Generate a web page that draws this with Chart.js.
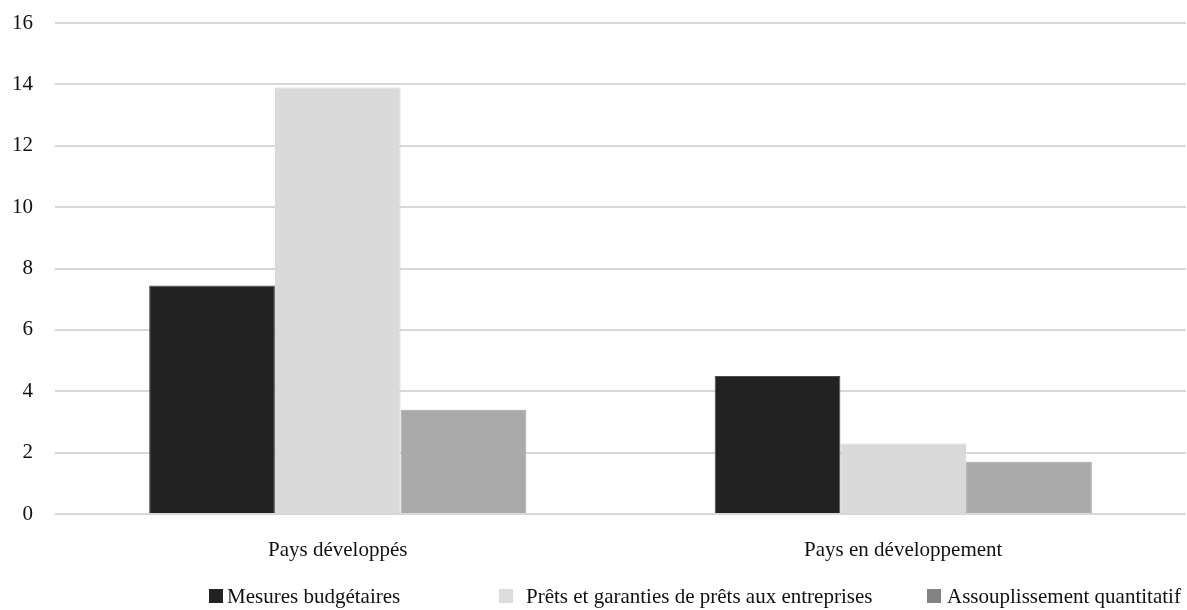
<!DOCTYPE html>
<html>
<head>
<meta charset="utf-8">
<script src="https://cdn.jsdelivr.net/npm/chart.js@4/dist/chart.umd.min.js"></script>
<style>
  html, body { margin: 0; padding: 0; background: #ffffff; }
  #wrap { width: 1187px; height: 610px; }
</style>
</head>
<body>
<div id="wrap"><canvas id="c" width="1187" height="610"></canvas></div>
<script>
// Categories and series
const categories = ['Pays développés', 'Pays en développement'];
const seriesNames = [
  'Mesures budgétaires',
  'Prêts et garanties de prêts aux entreprises',
  'Assouplissement quantitatif'
];
const mesuresBudgetaires = [7.45, 4.5];
const pretsGaranties = [13.9, 2.3];
const assouplissement = [3.4, 1.7];
const yTickValues = [0, 2, 4, 6, 8, 10, 12, 14, 16];

// Styling
const FONT = '"Liberation Serif", "Times New Roman", serif';
const barBorders = ['#4a4a4a', '#d4d4d4', '#a2a2a2'];
const swatchColors = ['#222222', '#dcdcdc', '#838383'];
const swatchX = [209, 499, 927];
const legendTextX = [227, 526, 947];

// Fine stipple fill for the light series
function stipple() {
  const p = document.createElement('canvas');
  p.width = 4; p.height = 4;
  const g = p.getContext('2d');
  g.fillStyle = '#dadada';
  g.fillRect(0, 0, 4, 4);
  g.fillStyle = '#d2d2d2';
  g.fillRect(0, 0, 1, 1);
  g.fillRect(2, 2, 1, 1);
  g.fillStyle = '#e0e0e0';
  g.fillRect(2, 0, 1, 1);
  g.fillRect(0, 2, 1, 1);
  return g.createPattern(p, 'repeat');
}
const barColors = ['#222222', stipple(), '#aaaaaa'];

// Legend drawn under the axis, item by item
const bottomLegend = {
  id: 'bottomLegend',
  afterDraw(chart) {
    const ctx = chart.ctx;
    ctx.save();
    ctx.font = '21px ' + FONT;
    ctx.textBaseline = 'alphabetic';
    ctx.textAlign = 'left';
    chart.data.datasets.forEach((ds, i) => {
      ctx.fillStyle = swatchColors[i];
      ctx.fillRect(swatchX[i], 589, 14, 14);
      ctx.fillStyle = '#111111';
      ctx.fillText(ds.label, legendTextX[i], 603);
    });
    ctx.restore();
  }
};

new Chart(document.getElementById('c'), {
  type: 'bar',
  data: {
    labels: categories,
    datasets: [
      { label: seriesNames[0], data: mesuresBudgetaires },
      { label: seriesNames[1], data: pretsGaranties },
      { label: seriesNames[2], data: assouplissement }
    ].map((ds, i) => Object.assign(ds, {
      backgroundColor: barColors[i],
      borderColor: barBorders[i],
      borderWidth: 1,
      categoryPercentage: 0.667,
      barPercentage: 1.0
    }))
  },
  options: {
    responsive: false,
    animation: false,
    layout: { padding: { top: 23, right: 1, left: 0, bottom: 0 } },
    plugins: {
      legend: { display: false },
      tooltip: { enabled: false }
    },
    scales: {
      x: {
        afterFit(scale) { scale.height = 96; },
        grid: { display: false, drawTicks: false },
        border: { display: false },
        ticks: {
          color: '#111111',
          padding: 24,
          font: { family: FONT, size: 21 },
          maxRotation: 0
        }
      },
      y: {
        min: 0,
        max: 16,
        afterFit(scale) {
          scale.width = 55;
          scale.paddingTop = 0;
          scale.paddingBottom = 0;
        },
        afterBuildTicks(scale) { scale.ticks = yTickValues.map(v => ({ value: v })); },
        grid: { color: '#d8d8d8', lineWidth: 2, drawTicks: false },
        border: { display: false },
        ticks: {
          color: '#111111',
          padding: 22,
          font: { family: FONT, size: 21 }
        }
      }
    }
  },
  plugins: [bottomLegend]
});
</script>
</body>
</html>
